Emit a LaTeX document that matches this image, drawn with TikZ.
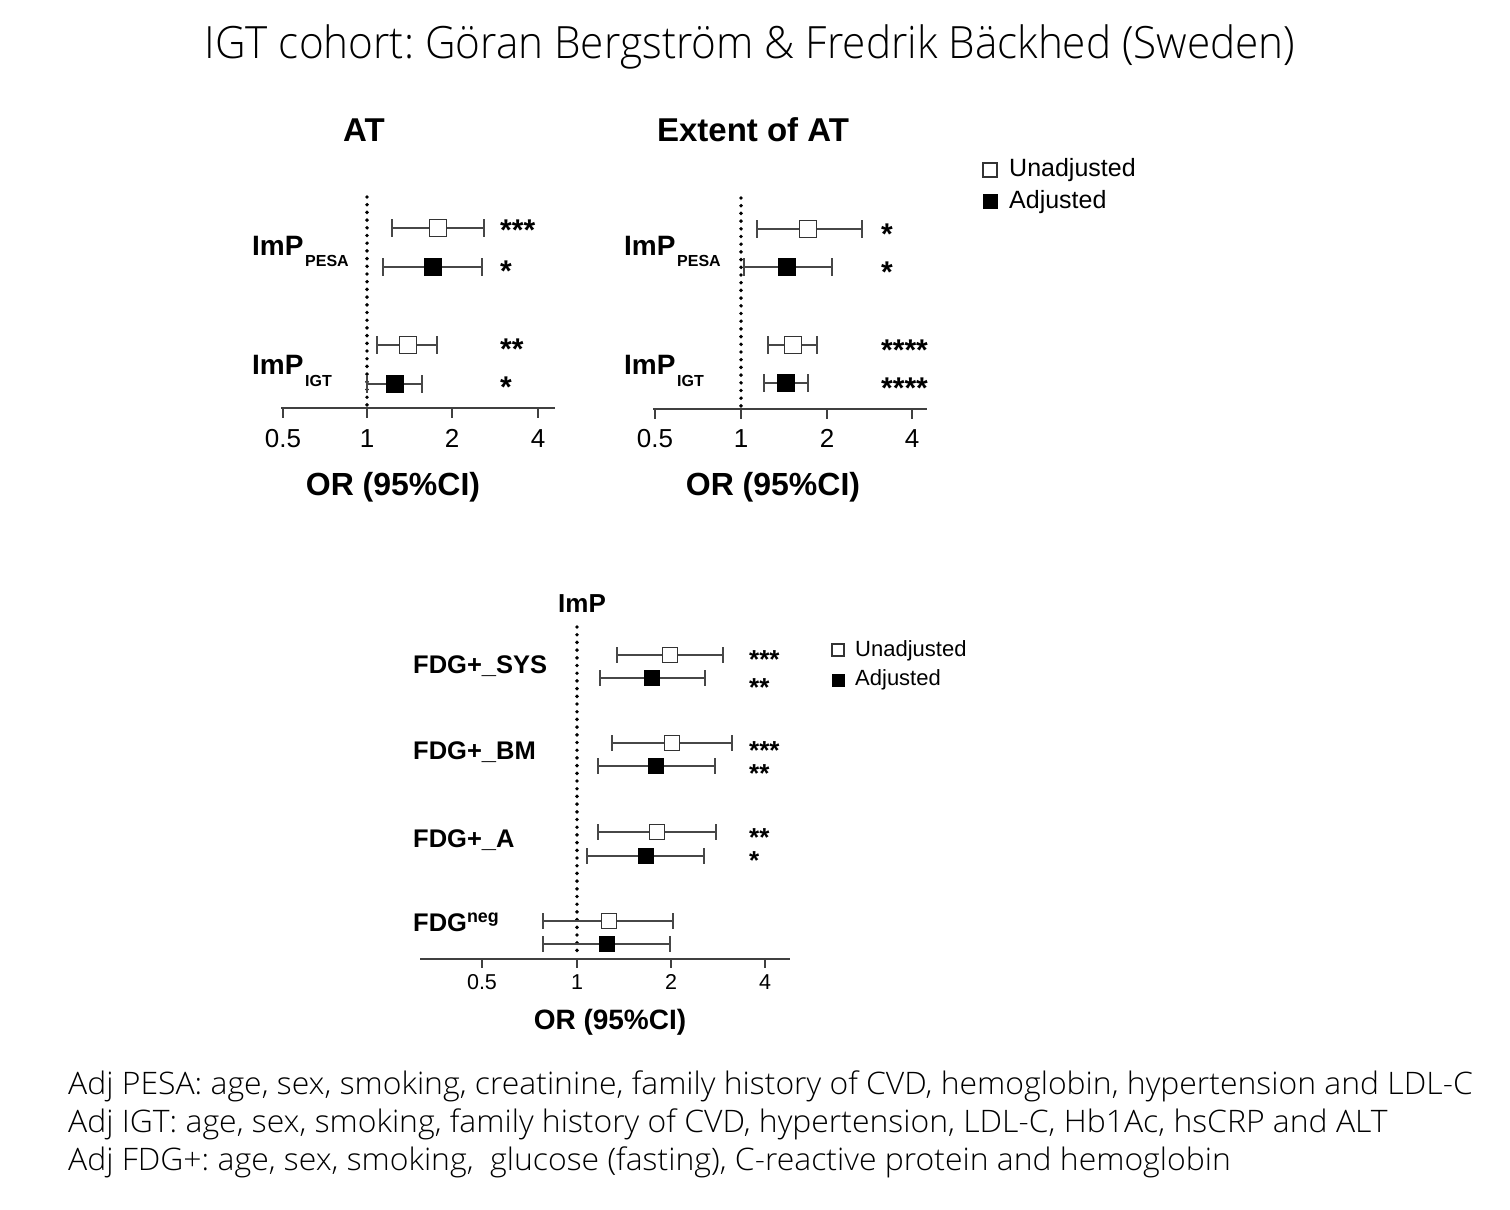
\documentclass[tikz,border=0pt]{standalone}
\usepackage{fontspec}
\setmainfont{Liberation Sans}
\IfFontExistsTF{Open Sans Light}
  {\newfontfamily\osc[FakeStretch=1.03]{Open Sans Light}\newfontfamily\osct[FakeStretch=0.95]{Open Sans Light}}
  {\newfontfamily\osc[FakeStretch=0.97]{Open Sans}\newfontfamily\osct[FakeStretch=0.93]{Open Sans}}
\frenchspacing
\newcommand\fprow[7]{% y, lo, hi, est, boxstyle, cap half, box half
  \draw[ci] (#2,#1) -- (#3,#1);
  \draw[ci] (#2,#1-#6) -- (#2,#1+#6);
  \draw[ci] (#3,#1-#6) -- (#3,#1+#6);
  \draw[#5] (#4-#7,#1-#7) rectangle (#4+#7,#1+#7);
}
\begin{document}
\begin{tikzpicture}[x=1pt,y=-1pt,
  ci/.style={line width=1.3pt, draw=black!72},
  ubox/.style={draw=black!80, line width=1.4pt, fill=white},
  abox/.style={draw=black, fill=black, line width=1pt},
  dotline/.style={line width=3.9pt, line cap=round, dash pattern=on 0pt off 7.7pt},
  axisline/.style={line width=1.3pt, draw=black!75},
  tlabel/.style={font=\fontsize{26}{30}\selectfont, inner sep=0pt, anchor=base},
  blabel/.style={font=\fontsize{21.5}{24}\selectfont, inner sep=0pt, anchor=base},
  ptitle/.style={font=\bfseries\fontsize{33}{38}\selectfont, inner sep=0pt},
  orlbl/.style={font=\bfseries\fontsize{32}{36}\selectfont, inner sep=0pt},
  imp/.style={font=\bfseries\fontsize{28}{32}\selectfont, inner sep=0pt, anchor=base west},
  sub/.style={font=\bfseries\fontsize{16}{18}\selectfont, inner sep=0pt, anchor=base west},
  stars/.style={font=\bfseries\fontsize{30}{34}\selectfont, inner sep=0pt, anchor=base west},
  bstars/.style={font=\bfseries\fontsize{26}{30}\selectfont, inner sep=0pt, anchor=base west},
  fdg/.style={font=\bfseries\fontsize{25.5}{28}\selectfont, inner sep=0pt, anchor=west},
  leg/.style={font=\fontsize{25}{28}\selectfont, inner sep=0pt, anchor=west},
  bleg/.style={font=\fontsize{22}{26}\selectfont, inner sep=0pt, anchor=west},
  foot/.style={font=\osc\fontsize{31}{36}\selectfont, inner sep=0pt, anchor=west}]
\useasboundingbox (0,0) rectangle (1510,1210);

% main title
\node[font=\osct\fontsize{44.5}{50}\selectfont, inner sep=0pt] (title) at (750,47) {IGT cohort: Göran Bergström \& Fredrik Bäckhed (Sweden)};

% ================= panel AT =================
\node[ptitle] (atT) at (364,130) {AT};
\draw[dotline] (367,197) -- (367,408);
\draw[axisline] (281,408) -- (555,408);
\foreach \x/\t in {283/0.5,367/1,452/2,538/4}{
  \draw[axisline] (\x,408) -- (\x,418);
  \node[tlabel] at (\x,447) {\t};
}
\fprow{228}{392}{484}{438}{ubox}{9}{8.5}
\fprow{267}{383}{482}{433}{abox}{9}{8.5}
\fprow{345}{377}{437}{408}{ubox}{9}{8.5}
\fprow{384}{367}{422}{395}{abox}{9}{8.5}
\node[stars] (s1) at (500,240) {***};
\node[stars] (s2) at (500,281) {*};
\node[stars] (s3) at (500,359) {**};
\node[stars] (s4) at (500,397) {*};
\node[imp] (ia) at (252,255) {ImP};
\node[sub] at (305,266) {PESA};
\node[imp] (ib) at (252,374) {ImP};
\node[sub] at (305,386) {IGT};
\node[orlbl] (or1) at (393,487) {OR (95\%CI)};

% ================= panel Extent of AT =================
\node[ptitle] (extT) at (753,130) {Extent of AT};
\draw[dotline] (741,198) -- (741,408);
\draw[axisline] (653,409) -- (927,409);
\foreach \x/\t in {655/0.5,741/1,827/2,912/4}{
  \draw[axisline] (\x,409) -- (\x,419);
  \node[tlabel] at (\x,447) {\t};
}
\fprow{229}{757}{862}{808}{ubox}{9}{8.5}
\fprow{267}{744}{832}{787}{abox}{9}{8.5}
\fprow{345}{768}{817}{793}{ubox}{9}{8.5}
\fprow{383}{764}{808}{786}{abox}{9}{8.5}
\node[stars] at (881,244) {*};
\node[stars] at (881,282) {*};
\node[stars] at (881,360) {****};
\node[stars] at (881,398) {****};
\node[imp] (ic) at (624,255) {ImP};
\node[sub] at (677,266) {PESA};
\node[imp] (id) at (624,374) {ImP};
\node[sub] at (677,386) {IGT};
\node[orlbl] (or2) at (773,487) {OR (95\%CI)};

% legend top
\draw[ubox, line width=1.2pt] (983,163) rectangle (997,177);
\node[leg] (lu) at (1009,170) {Unadjusted};
\draw[abox] (983,194) rectangle (997,208);
\node[leg] (la) at (1009,202) {Adjusted};

% ================= bottom panel =================
\node[font=\bfseries\fontsize{26}{30}\selectfont, inner sep=0pt] (impT) at (582,604) {ImP};
\draw[dotline] (577,627) -- (577,958);
\draw[axisline] (420,959) -- (790,959);
\foreach \x/\t in {482/0.5,577/1,671/2,765/4}{
  \draw[axisline] (\x,959) -- (\x,968);
  \node[blabel] at (\x,989) {\t};
}
\fprow{655}{617}{723}{670}{ubox}{8}{7.5}
\fprow{678}{600}{705}{652}{abox}{8}{7.5}
\fprow{743}{612}{732}{672}{ubox}{8}{7.5}
\fprow{766}{598}{715}{656}{abox}{8}{7.5}
\fprow{832}{598}{716}{657}{ubox}{8}{7.5}
\fprow{856}{587}{704}{646}{abox}{8}{7.5}
\fprow{921}{543}{673}{609}{ubox}{8}{7.5}
\fprow{944}{543}{670}{607}{abox}{8}{7.5}
\node[bstars] at (749,668) {***};
\node[bstars] at (749,696) {**};
\node[bstars] at (749,759) {***};
\node[bstars] at (749,782) {**};
\node[bstars] at (749,846) {**};
\node[bstars] at (749,869) {*};
\node[fdg] (f1) at (413,666) {FDG+\_SYS};
\node[fdg] (f2) at (413,752) {FDG+\_BM};
\node[fdg] (f3) at (413,840) {FDG+\_A};
\node[fdg] (f4) at (413,922) {FDG\textsuperscript{neg}};
\node[orlbl, font=\bfseries\fontsize{28}{30}\selectfont] (or3) at (610,1022) {OR (95\%CI)};

% legend bottom
\draw[ubox, line width=1.1pt] (832,644) rectangle (844,656);
\node[bleg] (blu) at (855,651) {Unadjusted};
\draw[abox] (832,674) rectangle (844,686);
\node[bleg] (bla) at (855,680) {Adjusted};

% footnotes
\node[foot] (n1) at (68,1086) {Adj PESA: age, sex, smoking, creatinine, family history of CVD, hemoglobin, hypertension and LDL-C};
\node[foot] (n2) at (68,1124) {Adj IGT: age, sex, smoking, family history of CVD, hypertension, LDL-C, Hb1Ac, hsCRP and ALT};
\node[foot] (n3) at (68,1162) {Adj FDG+: age, sex, smoking, \ glucose (fasting), C-reactive protein and hemoglobin};
\end{tikzpicture}
\end{document}
